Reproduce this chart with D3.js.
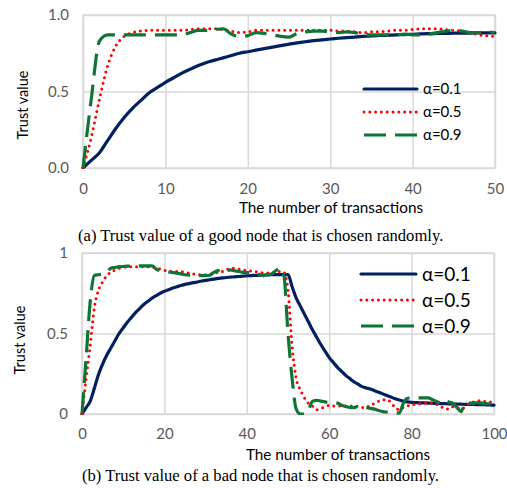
<!DOCTYPE html>
<html><head><meta charset="utf-8">
<script src="https://cdn.jsdelivr.net/npm/d3@7"></script>
<style>body{margin:0;background:#fff} svg{display:block}</style>
</head><body>
<svg id="c" width="507" height="488"></svg>
<script>
// ---------- DATA ----------
const xA = d3.range(0, 51);   // transactions 0..50
const xB = d3.range(0, 101);  // transactions 0..100
const seriesNames = ["α=0.1", "α=0.5", "α=0.9"];

const a01 = [0,0.05,0.1,0.18,0.26,0.33,0.39,0.44,0.49,0.525,
  0.56,0.59,0.62,0.645,0.67,0.69,0.705,0.72,0.735,0.75,
  0.76,0.77,0.78,0.79,0.8,0.81,0.818,0.825,0.832,0.838,
  0.843,0.848,0.852,0.856,0.86,0.863,0.866,0.868,0.87,0.872,
  0.874,0.876,0.878,0.879,0.88,0.881,0.882,0.882,0.883,0.883,0.883];
const a05 = [0,0.2,0.45,0.67,0.8,0.86,0.885,0.895,0.9,0.9,
  0.9,0.9,0.9,0.905,0.91,0.91,0.91,0.905,0.895,0.885,
  0.89,0.9,0.9,0.9,0.9,0.9,0.9,0.9,0.9,0.9,
  0.9,0.895,0.895,0.89,0.885,0.89,0.89,0.895,0.9,0.9,
  0.905,0.91,0.91,0.91,0.905,0.9,0.895,0.885,0.87,0.865,0.86];
const a09 = [0,0.45,0.83,0.87,0.87,0.87,0.87,0.87,0.87,0.87,
  0.87,0.87,0.87,0.885,0.9,0.9,0.905,0.91,0.875,0.86,
  0.865,0.885,0.88,0.87,0.86,0.855,0.88,0.89,0.895,0.895,
  0.89,0.885,0.89,0.885,0.875,0.87,0.87,0.87,0.87,0.875,
  0.87,0.87,0.875,0.885,0.895,0.9,0.895,0.885,0.885,0.89,0.885];

const b01 = [0,0.04,0.08,0.16,0.245,0.31,0.365,0.41,0.455,0.5,
  0.535,0.57,0.6,0.63,0.655,0.68,0.7,0.72,0.735,0.75,
  0.762,0.772,0.782,0.79,0.798,0.805,0.81,0.816,0.82,0.826,
  0.83,0.834,0.838,0.842,0.845,0.848,0.85,0.852,0.854,0.856,
  0.858,0.86,0.861,0.862,0.863,0.864,0.865,0.866,0.866,0.866,
  0.866,0.79,0.72,0.67,0.62,0.57,0.52,0.475,0.43,0.39,
  0.35,0.32,0.29,0.265,0.24,0.22,0.2,0.185,0.17,0.162,
  0.155,0.145,0.135,0.125,0.115,0.105,0.095,0.087,0.08,0.075,
  0.072,0.071,0.07,0.069,0.068,0.067,0.066,0.065,0.064,0.063,
  0.062,0.061,0.061,0.06,0.06,0.059,0.058,0.058,0.057,0.056,0.055];
const b05 = [0,0.22,0.43,0.66,0.77,0.82,0.86,0.88,0.895,0.905,
  0.91,0.915,0.915,0.915,0.915,0.915,0.915,0.912,0.908,0.9,
  0.893,0.887,0.885,0.885,0.885,0.88,0.875,0.87,0.866,0.865,
  0.865,0.868,0.875,0.88,0.885,0.895,0.905,0.905,0.9,0.895,
  0.89,0.888,0.885,0.88,0.877,0.875,0.877,0.88,0.885,0.88,
  0.77,0.42,0.22,0.15,0.1,0.065,0.047,0.027,0.035,0.045,
  0.053,0.05,0.05,0.05,0.05,0.05,0.05,0.047,0.04,0.04,
  0.057,0.065,0.08,0.088,0.088,0.072,0.04,0.027,0.04,0.05,
  0.057,0.06,0.063,0.067,0.067,0.067,0.06,0.047,0.035,0.03,
  0.045,0.04,0.03,0.045,0.065,0.075,0.083,0.08,0.077,0.075,0.07];
const b09 = [0,0.35,0.7,0.86,0.865,0.87,0.88,0.905,0.91,0.915,
  0.916,0.918,0.918,0.918,0.92,0.92,0.92,0.92,0.9,0.89,
  0.885,0.882,0.88,0.875,0.87,0.865,0.863,0.862,0.86,0.86,
  0.86,0.862,0.88,0.89,0.875,0.885,0.895,0.89,0.885,0.88,
  0.878,0.877,0.875,0.868,0.86,0.865,0.87,0.89,0.905,0.86,
  0.5,0.22,0.03,0,0,0.03,0.08,0.085,0.08,0.075,
  0.07,0.068,0.067,0.055,0.047,0.04,0.04,0.047,0.045,0.04,
  0.035,0.03,0.022,0.015,0.012,0.01,0.008,0.006,0.067,0.098,
  0.1,0.1,0.1,0.1,0.1,0.09,0.078,0.07,0.088,0.075,
  0.067,0.04,0.015,0.07,0.067,0.068,0.07,0.068,0.065,0.063,0.062];

const xTicksA = [0,10,20,30,40,50];
const xTicksB = [0,20,40,60,80,100];
const yTicks = [0,0.5,1];
const yTickLabelsA = ["0.0","0.5","1.0"];
const yTickLabelsB = ["0","0.5","1"];
const xTitle = "The number of transactions";
const yTitle = "Trust value";
const captionA = "(a) Trust value of a good node that is chosen randomly.";
const captionB = "(b) Trust value of a bad node that is chosen randomly.";

// ---------- STYLE ----------
const styles = [
  {color:"#002060", width:3.2, dash:null, cap:"round"},
  {color:"#FF0000", width:3, dash:"0,5.8", cap:"round"},
  {color:"#0F7535", width:3.2, dash:"22,9", cap:"butt"}
];
const sansFont = "Lato, 'Open Sans', sans-serif";
const serifFont = "'Liberation Serif', 'Times New Roman', serif";

const svg = d3.select("#c");

function drawChart(cfg){
  const x = d3.scaleLinear().domain(cfg.xDomain).range([cfg.left, cfg.right]);
  const y = d3.scaleLinear().domain([0,1]).range([cfg.bottom, cfg.top]);
  const g = svg.append("g");

  // gridlines
  g.append("g").attr("transform", `translate(0,${cfg.bottom})`)
    .call(d3.axisBottom(x).tickValues(cfg.xTicks).tickSize(-(cfg.bottom-cfg.top)).tickFormat(""))
    .call(s => s.select(".domain").remove())
    .call(s => s.selectAll("line").attr("stroke","#d9d9d9").attr("stroke-width",1.5));
  g.append("g").attr("transform", `translate(${cfg.left},0)`)
    .call(d3.axisLeft(y).tickValues(yTicks).tickSize(-(cfg.right-cfg.left)).tickFormat(""))
    .call(s => s.select(".domain").remove())
    .call(s => s.selectAll("line").attr("stroke","#d9d9d9").attr("stroke-width",1.5));
  g.append("rect").attr("x",cfg.left).attr("y",cfg.top)
    .attr("width",cfg.right-cfg.left).attr("height",cfg.bottom-cfg.top)
    .attr("fill","none").attr("stroke","#d9d9d9").attr("stroke-width",1.5);

  // tick labels via axes
  g.append("g").attr("transform", `translate(0,${cfg.bottom})`)
    .call(d3.axisBottom(x).tickValues(cfg.xTicks).tickSize(0).tickPadding(cfg.xPad))
    .call(s => s.select(".domain").remove())
    .call(s => s.selectAll("text").attr("font-family",sansFont).attr("font-size",cfg.tickSize).attr("fill","#595959"));
  g.append("g").attr("transform", `translate(${cfg.left},0)`)
    .call(d3.axisLeft(y).tickValues(yTicks).tickSize(0).tickPadding(cfg.yPad).tickFormat((d,i)=>cfg.yLabels[i]))
    .call(s => s.select(".domain").remove())
    .call(s => s.selectAll("text").attr("font-family",sansFont).attr("font-size",cfg.tickSize).attr("fill","#595959"));

  // lines
  const clipId = "clip"+cfg.id;
  svg.append("clipPath").attr("id",clipId).append("rect")
    .attr("x",cfg.left-3).attr("y",cfg.top-3).attr("width",cfg.right-cfg.left+6).attr("height",cfg.bottom-cfg.top+4);
  const line = d3.line().x(d=>x(d[0])).y(d=>y(d[1])).curve(d3.curveMonotoneX);
  cfg.series.forEach((vals,i)=>{
    const st = styles[i];
    g.append("path").datum(cfg.xs.map((xv,j)=>[xv,vals[j]]))
      .attr("clip-path",`url(#${clipId})`)
      .attr("d",line).attr("fill","none").attr("stroke",st.color)
      .attr("stroke-width",st.width).attr("stroke-dasharray",st.dash)
      .attr("stroke-linecap",st.cap).attr("stroke-linejoin","round");
  });

  // legend
  const lg = g.append("g");
  seriesNames.forEach((name,i)=>{
    const st = styles[i];
    const yy = cfg.legY + i*cfg.legStep;
    lg.append("line").attr("x1",cfg.legX1).attr("x2",cfg.legX2).attr("y1",yy).attr("y2",yy)
      .attr("stroke",st.color).attr("stroke-width",st.width).attr("stroke-dasharray",st.dash)
      .attr("stroke-linecap",st.cap);
    lg.append("text").attr("x",cfg.legX2+6).attr("y",yy).attr("dy","0.35em")
      .attr("font-family",sansFont).attr("font-size",cfg.legSize).attr("fill","#000").text(name);
  });

  // titles
  g.append("text").attr("x",cfg.xTitleX).attr("y",cfg.xTitleY)
    .attr("text-anchor","middle").attr("font-family",sansFont).attr("font-size",15.3)
    .attr("fill","#000").text(xTitle);
  g.append("text").attr("transform",`translate(${cfg.yTitleX},${cfg.yTitleC}) rotate(-90)`)
    .attr("text-anchor","middle").attr("font-family",sansFont).attr("font-size",14.5)
    .attr("fill","#000").text(yTitle);
  g.append("text").attr("x",cfg.capX).attr("y",cfg.capY)
    .attr("font-family",serifFont).attr("font-size",16.6).attr("fill","#000").text(cfg.caption);
}

drawChart({id:"A", xDomain:[0,50], xs:xA, series:[a01,a05,a09], xTicks:xTicksA, yLabels:yTickLabelsA,
  left:83, right:495, top:15, bottom:168, xPad:15, yPad:14, tickSize:15,
  legX1:364, legX2:417, legY:89, legStep:23, legSize:15,
  xTitleX:331, xTitleY:213, yTitleX:28, yTitleC:105,
  caption:captionA, capX:78, capY:241});

drawChart({id:"B", xDomain:[0,100], xs:xB, series:[b01,b05,b09], xTicks:xTicksB, yLabels:yTickLabelsB,
  left:82, right:494, top:253, bottom:414, xPad:14, yPad:14, tickSize:15,
  legX1:361, legX2:416, legY:274, legStep:26, legSize:19,
  xTitleX:338, xTitleY:460, yTitleX:25, yTitleC:340,
  caption:captionB, capX:82, capY:481});
</script>
</body></html>
